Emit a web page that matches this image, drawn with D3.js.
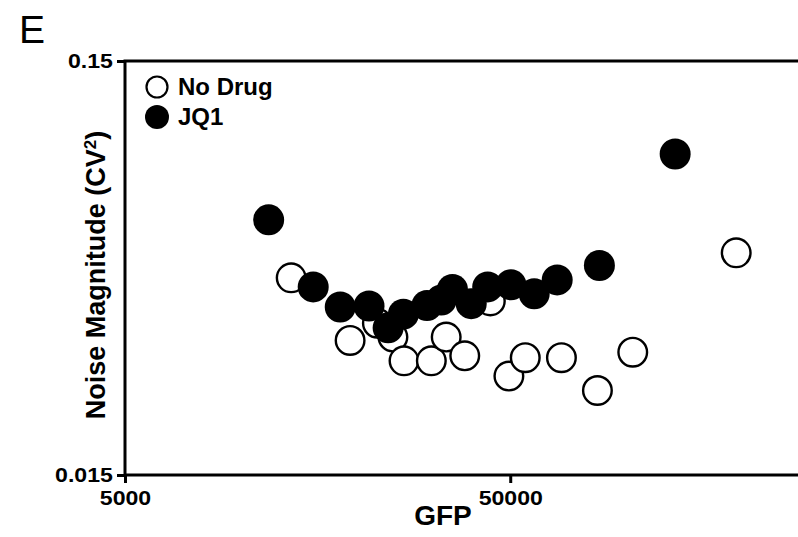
<!DOCTYPE html>
<html>
<head>
<meta charset="utf-8">
<script src="https://cdn.jsdelivr.net/npm/d3@7"></script>
<style>
	body { margin: 0; background: #fff; }
</style>
</head>
<body>
<svg id="myGraph" width="798" height="537"></svg>
<script>
var noDrugGFP = [13500, 19200, 22600, 24800, 26500, 31200, 34100, 38100, 44400, 49600, 54700, 67900, 84200, 104000, 193000];
var noDrugCV2 = [0.0449, 0.0317, 0.0349, 0.0323, 0.0283, 0.0283, 0.0323, 0.0291, 0.0395, 0.0260, 0.0288, 0.0288, 0.0240, 0.0297, 0.0516];

var jq1GFP = [11800, 15400, 18100, 21500, 24100, 26400, 30400, 33100, 35400, 39600, 43700, 50200, 57700, 66200, 85200, 134000];
var jq1CV2 = [0.0620, 0.0427, 0.0382, 0.0384, 0.0340, 0.0367, 0.0385, 0.0397, 0.0421, 0.0389, 0.0427, 0.0432, 0.0411, 0.0444, 0.0481, 0.0894];

var xTicks = [5000, 50000];
var yTicks = [0.015, 0.15];
var seriesNames = ["No Drug", "JQ1"];

window.addEventListener("load", function(){

	var svg = d3.select("#myGraph");

	var xScale = d3.scaleLog()
		.domain([5000, 300000])
		.range([125, 810]);

	var yScale = d3.scaleLog()
		.domain([0.015, 0.15])
		.range([475, 61]);

	// frame (right side runs off the picture)
	svg.append("rect")
		.attr("x", xScale(5000))
		.attr("y", yScale(0.15))
		.attr("width", xScale(300000) - xScale(5000))
		.attr("height", yScale(0.015) - yScale(0.15))
		.style("fill", "none")
		.style("stroke", "#000")
		.style("stroke-width", 3);

	var xAxis = d3.axisBottom(xScale)
		.tickValues(xTicks)
		.tickFormat(function(d){ return d; })
		.tickSizeInner(8)
		.tickSizeOuter(0)
		.tickPadding(7);

	var yAxis = d3.axisLeft(yScale)
		.tickValues(yTicks)
		.tickFormat(function(d){ return d; })
		.tickSizeInner(8)
		.tickSizeOuter(0)
		.tickPadding(3);

	svg.append("g")
		.attr("class", "axis")
		.attr("transform", "translate(0," + yScale(0.015) + ")")
		.call(xAxis);

	svg.append("g")
		.attr("class", "axis")
		.attr("transform", "translate(" + xScale(5000) + ",0)")
		.call(yAxis);

	svg.selectAll(".axis .domain").remove();

	svg.selectAll(".axis line")
		.style("stroke", "#000")
		.style("stroke-width", 3);

	// tick labels in the figure are a wide bold face
	svg.selectAll(".axis text")
		.attr("transform", "scale(1.1,1)")
		.style("font-family", "'Liberation Sans', Arial, sans-serif")
		.style("font-weight", "bold")
		.style("font-size", "21px")
		.style("fill", "#000");

	// no drug first, JQ1 drawn on top
	svg.append("g")
		.selectAll("circle")
		.data(noDrugGFP)
		.enter()
		.append("circle")
		.attr("cx", function(d){ return xScale(d); })
		.attr("cy", function(d, i){ return yScale(noDrugCV2[i]); })
		.attr("r", 14.3)
		.style("fill", "#fff")
		.style("stroke", "#000")
		.style("stroke-width", 2.4);

	svg.append("g")
		.selectAll("circle")
		.data(jq1GFP)
		.enter()
		.append("circle")
		.attr("cx", function(d){ return xScale(d); })
		.attr("cy", function(d, i){ return yScale(jq1CV2[i]); })
		.attr("r", 15.5)
		.style("fill", "#000");

	// legend
	var legend = svg.append("g");
	legend.selectAll("circle")
		.data(seriesNames)
		.enter()
		.append("circle")
		.attr("cx", 157)
		.attr("cy", function(d, i){ return 87 + i * 30; })
		.attr("r", function(d, i){ return i == 0 ? 10.5 : 12; })
		.style("fill", function(d, i){ return i == 0 ? "#fff" : "#000"; })
		.style("stroke", "#000")
		.style("stroke-width", function(d, i){ return i == 0 ? 2.2 : 0; });

	legend.selectAll("text")
		.data(seriesNames)
		.enter()
		.append("text")
		.attr("x", 178)
		.attr("y", function(d, i){ return 95 + i * 30; })
		.style("font-family", "'Liberation Sans', Arial, sans-serif")
		.style("font-weight", "bold")
		.style("font-size", "24px")
		.text(function(d){ return d; });

	// titles
	svg.append("text")
		.attr("x", 19)
		.attr("y", 43)
		.style("font-family", "'Liberation Sans', Arial, sans-serif")
		.style("font-size", "39px")
		.text("E");

	svg.append("text")
		.attr("x", 443)
		.attr("y", 525)
		.attr("text-anchor", "middle")
		.style("font-family", "'Liberation Sans', Arial, sans-serif")
		.style("font-weight", "bold")
		.style("font-size", "28px")
		.text("GFP");

	var yLabel = svg.append("text")
		.attr("transform", "translate(105,275) rotate(-90)")
		.attr("text-anchor", "middle")
		.style("font-family", "'Liberation Sans', Arial, sans-serif")
		.style("font-weight", "bold")
		.style("font-size", "27px");
	yLabel.append("tspan").text("Noise Magnitude (CV");
	yLabel.append("tspan")
		.attr("baseline-shift", "super")
		.style("font-size", "17px")
		.text("2");
	yLabel.append("tspan").text(")");

});
</script>
</body>
</html>
